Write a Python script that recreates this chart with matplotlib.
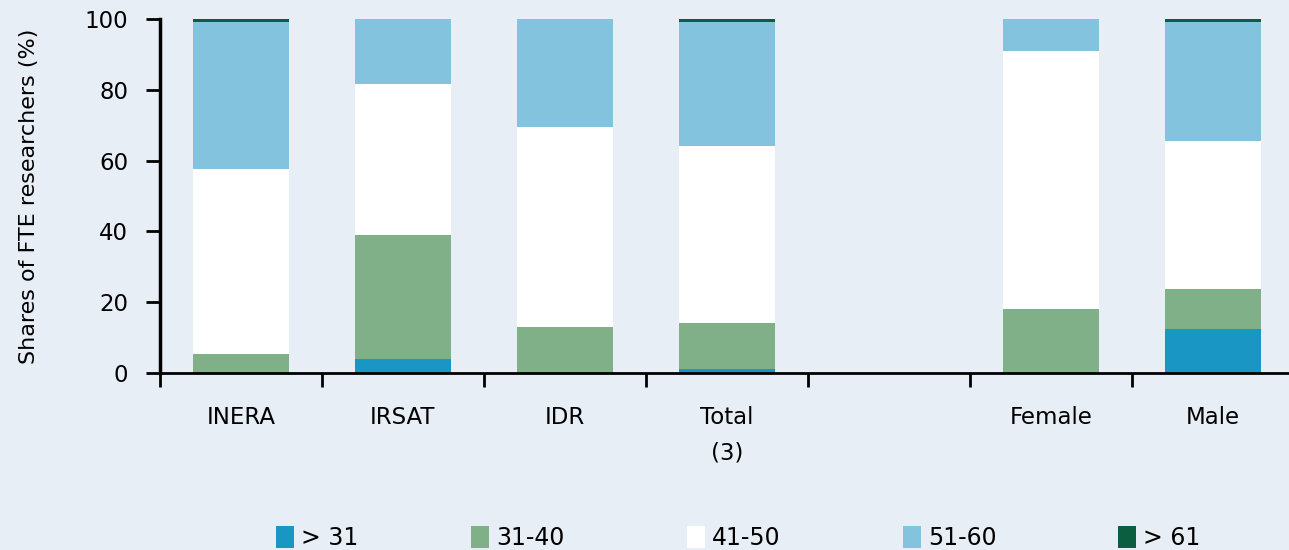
import matplotlib
matplotlib.use("Agg")
import matplotlib.pyplot as plt
import numpy as np

categories = ["INERA", "IRSAT", "IDR", "Total\n(3)", "", "Female", "Male"]
series_names = ["> 31", "31-40", "41-50", "51-60", "> 61"]
s_lt31 = [0.0, 4.0, 0.0, 1.0, 0.0, 0.0, 12.4]
s_31_40 = [5.3, 35.1, 13.0, 13.2, 0.0, 18.0, 11.3]
s_41_50 = [52.2, 42.4, 56.5, 50.0, 0.0, 73.0, 41.8]
s_51_60 = [41.7, 18.5, 30.5, 35.0, 0.0, 9.0, 33.7]
s_gt61 = [0.8, 0.0, 0.0, 0.8, 0.0, 0.0, 0.8]
colors = ["#1A96C4", "#80B088", "#FFFFFF", "#84C3DE", "#0B5E3F"]

plt.rcParams['font.family'] = ['DejaVu Sans']

bg = "#E8EEF6"
W, H = 1289, 550
fig = plt.figure(figsize=(W/100, H/100), dpi=100, facecolor=bg)
ax = fig.add_axes([160/W, 177/H, 1134/W, 354/H])
ax.set_facecolor(bg)

x = np.arange(len(categories))
bottom = np.zeros(len(categories))
handles = []
for name, vals, c in zip(series_names, [s_lt31, s_31_40, s_41_50, s_51_60, s_gt61], colors):
    v = np.array(vals)
    b = ax.bar(x, v, bottom=bottom, width=0.59, color=c, label=name, linewidth=0)
    handles.append(b)
    bottom += v

ax.set_xlim(-0.5, 6.5)
ax.set_ylim(0, 100)
ax.set_yticks([0, 20, 40, 60, 80, 100])
ax.tick_params(axis='y', labelsize=16.5, length=10, width=2, direction='out', pad=13)
ax.set_xticks(np.arange(-0.5, 6.6, 1.0))
ax.set_xticklabels([])
ax.tick_params(axis='x', length=10, width=2, direction='out')
for i, lab in enumerate(categories):
    ax.text(i, -9.3, lab, ha='center', va='top', fontsize=16.5, linespacing=1.7,
            transform=ax.transData)

for s in ['top', 'right']:
    ax.spines[s].set_visible(False)
ax.spines['left'].set_linewidth(2.5)
ax.spines['bottom'].set_linewidth(2)
ax.set_ylabel("Shares of FTE researchers (%)", fontsize=16)
ax.yaxis.set_label_coords(-(160 - 39) / 1134, 0.5)

legend_x = [276, 471, 687, 903, 1118]
for h, name, lx in zip(handles, series_names, legend_x):
    fig.legend(handles=[h], labels=[name], loc='center left',
               bbox_to_anchor=(lx / W, 1 - 538 / H), frameon=False, fontsize=17,
               handlelength=0.75, handleheight=1.1, handletextpad=0.3,
               borderpad=0, borderaxespad=0)

fig.savefig("out.png", dpi=100, facecolor=bg)
